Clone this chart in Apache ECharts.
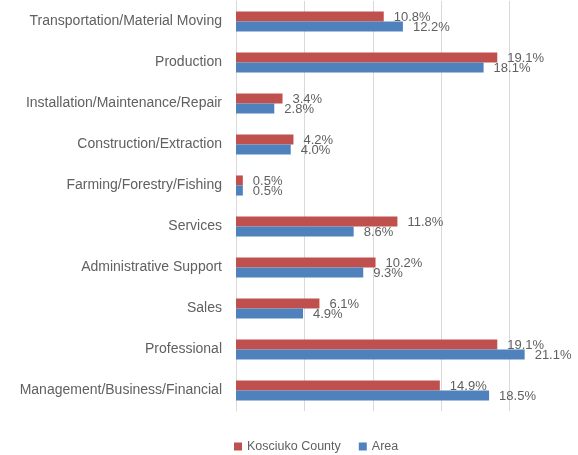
<!DOCTYPE html>
<html>
<head>
<meta charset="utf-8">
<script src="https://cdn.jsdelivr.net/npm/echarts@6/dist/echarts.min.js"></script>
<style>
html,body{margin:0;padding:0;background:#fff;}
#chart{width:578px;height:455px;}
</style>
</head>
<body>
<div id="chart"></div>
<script>
const categories = [
  "Transportation/Material Moving",
  "Production",
  "Installation/Maintenance/Repair",
  "Construction/Extraction",
  "Farming/Forestry/Fishing",
  "Services",
  "Administrative Support",
  "Sales",
  "Professional",
  "Management/Business/Financial"
];
const kosciuko = [10.8, 19.1, 3.4, 4.2, 0.5, 11.8, 10.2, 6.1, 19.1, 14.9];
const area = [12.2, 18.1, 2.8, 4.0, 0.5, 8.6, 9.3, 4.9, 21.1, 18.5];
const seriesNames = ["Kosciuko County", "Area"];

const chart = echarts.init(document.getElementById('chart'), null, {renderer: 'canvas'});
const font = "'Liberation Sans', Arial, sans-serif";
const textColor = '#606060';
const labelStyle = {
  show: true,
  position: 'right',
  distance: 10,
  offset: [0, 1],
  color: textColor,
  fontFamily: font,
  fontSize: 13,
  formatter: p => p.value.toFixed(1) + '%'
};
chart.setOption({
  animation: false,
  textStyle: {fontFamily: font},
  grid: {left: 236, width: 345, top: 1, height: 410, containLabel: false},
  legend: {
    data: seriesNames,
    left: 229,
    top: 435,
    itemWidth: 8,
    itemHeight: 8,
    itemGap: 18,
    icon: 'rect',
    textStyle: {color: textColor, fontSize: 12.5, fontFamily: font}
  },
  xAxis: {
    type: 'value',
    min: 0,
    max: 25,
    interval: 5,
    axisLabel: {show: false},
    axisLine: {show: false},
    axisTick: {show: false},
    splitLine: {show: true, lineStyle: {color: '#d9d9d9', width: 1}}
  },
  yAxis: {
    type: 'category',
    inverse: true,
    data: categories,
    axisTick: {show: false},
    axisLine: {show: true, lineStyle: {color: '#d9d9d9'}},
    axisLabel: {color: textColor, fontSize: 14, fontFamily: font, margin: 14}
  },
  series: [
    {
      name: seriesNames[0],
      type: 'bar',
      data: kosciuko,
      barGap: '0%',
      barCategoryGap: '51%',
      itemStyle: {color: '#C0504D'},
      label: labelStyle
    },
    {
      name: seriesNames[1],
      type: 'bar',
      data: area,
      barGap: '0%',
      barCategoryGap: '51%',
      itemStyle: {color: '#4F81BD'},
      label: labelStyle
    }
  ]
});
</script>
</body>
</html>
